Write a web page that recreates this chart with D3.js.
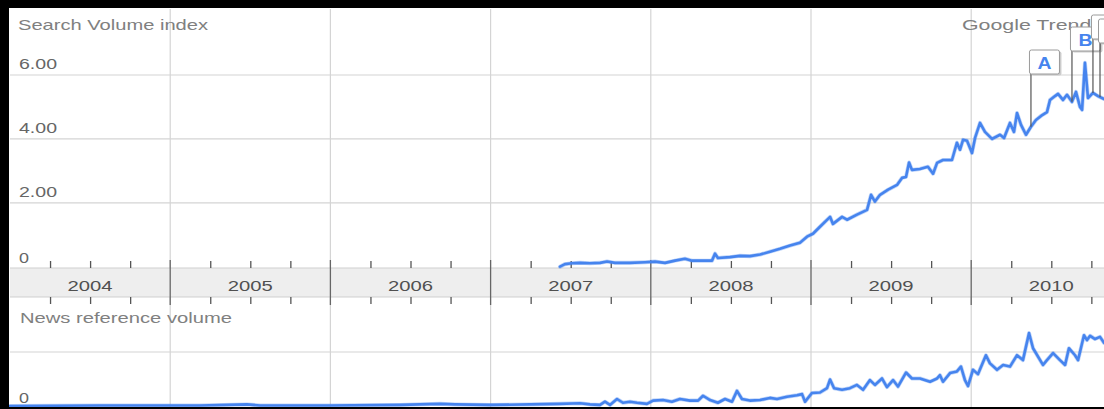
<!DOCTYPE html>
<html><head><meta charset="utf-8">
<script src="https://cdn.jsdelivr.net/npm/d3@7"></script>
<style>html,body{margin:0;padding:0;background:#fff;overflow:hidden}svg{display:block}</style>
</head><body><svg id="c" width="1104" height="409"></svg>
<script>
// ---------- data ----------
const years = [2004, 2005, 2006, 2007, 2008, 2009, 2010];
const yearLabels = ["2004", "2005", "2006", "2007", "2008", "2009", "2010"];

const searchTime = [2007.433,2007.464,2007.508,2007.558,2007.620,2007.683,2007.727,2007.777,2007.870,2007.964,
  2008.026,2008.089,2008.151,2008.213,2008.257,2008.338,2008.382,2008.401,2008.419,2008.494,2008.557,2008.619,
  2008.682,2008.744,2008.806,2008.869,2008.931,2008.975,2009.012,2009.056,2009.119,2009.137,2009.194,2009.225,
  2009.287,2009.350,2009.375,2009.399,2009.431,2009.481,2009.537,2009.568,2009.593,2009.612,2009.630,2009.680,
  2009.730,2009.762,2009.787,2009.824,2009.880,2009.911,2009.930,2009.949,2009.974,2010.005,2010.024,2010.055,
  2010.086,2010.130,2010.180,2010.205,2010.242,2010.267,2010.286,2010.311,2010.342,2010.373,2010.404,2010.436,
  2010.473,2010.492,2010.523,2010.542,2010.573,2010.598,2010.629,2010.654,2010.679,2010.692,2010.710,2010.729,
  2010.760,2010.792,2010.829];
const searchValue = [0.00,0.08,0.11,0.12,0.11,0.12,0.16,0.12,0.12,0.14,
  0.16,0.12,0.19,0.25,0.19,0.19,0.19,0.41,0.27,0.30,0.34,0.33,
  0.38,0.47,0.56,0.66,0.75,0.94,1.03,1.25,1.56,1.34,1.56,1.47,
  1.63,1.78,2.25,2.04,2.25,2.41,2.56,2.78,2.81,3.26,3.03,3.06,
  3.13,2.91,3.25,3.34,3.34,3.88,3.66,3.97,3.94,3.56,4.03,4.50,
  4.22,4.00,4.13,4.03,4.50,4.22,4.81,4.44,4.13,4.38,4.59,4.72,
  4.84,5.22,5.34,5.41,5.22,5.38,5.16,5.47,5.00,4.91,6.38,5.28,
  5.44,5.34,5.25];

const newsTime = [2004.000,2004.562,2005.186,2005.479,2005.561,2005.998,2006.434,2006.684,2006.778,2006.996,
  2007.246,2007.433,2007.558,2007.620,2007.683,2007.714,2007.745,2007.789,2007.826,2007.870,2007.914,2007.976,
  2008.014,2008.076,2008.132,2008.182,2008.245,2008.295,2008.326,2008.370,2008.419,2008.463,2008.507,2008.538,
  2008.569,2008.619,2008.682,2008.744,2008.788,2008.850,2008.913,2008.944,2008.963,2009.006,2009.056,2009.100,
  2009.119,2009.144,2009.194,2009.243,2009.287,2009.325,2009.368,2009.399,2009.443,2009.474,2009.512,2009.543,
  2009.593,2009.630,2009.680,2009.743,2009.787,2009.805,2009.824,2009.868,2009.911,2009.936,2009.961,2009.980,
  2010.011,2010.042,2010.092,2010.117,2010.161,2010.199,2010.242,2010.286,2010.323,2010.361,2010.386,2010.448,
  2010.473,2010.511,2010.554,2010.586,2010.610,2010.648,2010.667,2010.704,2010.723,2010.742,2010.773,2010.804,
  2010.829];
const newsValue = [0.00,0.01,0.01,0.03,0.01,0.01,0.02,0.04,0.03,0.02,
  0.03,0.04,0.05,0.03,0.02,0.08,0.02,0.13,0.06,0.08,0.06,0.04,
  0.10,0.11,0.08,0.13,0.10,0.10,0.19,0.11,0.06,0.13,0.08,0.28,
  0.13,0.10,0.11,0.15,0.13,0.17,0.20,0.22,0.08,0.24,0.25,0.33,
  0.49,0.33,0.30,0.33,0.39,0.30,0.48,0.39,0.51,0.35,0.48,0.36,
  0.62,0.51,0.51,0.45,0.51,0.57,0.45,0.61,0.64,0.73,0.48,0.37,
  0.67,0.59,0.94,0.79,0.67,0.76,0.73,0.94,0.85,1.35,1.07,0.76,
  0.85,0.98,0.85,0.76,1.07,0.94,0.85,1.31,1.22,1.30,1.24,1.28,
  1.17];

const searchTicks = [0, 2, 4, 6];
const searchTickLabels = ["0", "2.00", "4.00", "6.00"];
const newsTicks = [0, 1];
const newsTickLabels = ["0", ""];

const eventLetters = ["A", "B", "C", "D"];
const eventTime = [2010.373, 2010.629, 2010.760, 2010.804];

// ---------- layout ----------
const W = 1104, H = 409;
const left = 10;
const svg = d3.select("#c");
const FONT = "'Liberation Sans', Arial, sans-serif";
const BLUE = "#4684ee";

const x = d3.scaleLinear().domain([2004, 2011]).range([left, left + 7 * 160.2]);
const yTop = d3.scaleLinear().domain([0, 6]).range([266.7, 75]);
const yBot = d3.scaleLinear().domain([0, 1]).range([406, 352]);

const bandTop = 268, bandBot = 297;

function txt(s, px, py, size, len, color, anchor) {
  const t = svg.append("text").attr("x", px).attr("y", py)
    .attr("font-family", FONT).attr("font-size", size)
    .attr("fill", color).attr("text-anchor", anchor || "start").text(s);
  if (len) t.attr("textLength", len).attr("lengthAdjust", "spacingAndGlyphs");
  return t;
}

// vertical year gridlines
svg.append("g").selectAll("line").data(years.slice(1)).join("line")
  .attr("x1", d => x(d)).attr("x2", d => x(d))
  .attr("y1", 9).attr("y2", 407)
  .attr("stroke", "#d4d4d4").attr("stroke-width", 1.2);

// horizontal gridlines (top)
svg.append("g").selectAll("line").data(searchTicks.slice(1)).join("line")
  .attr("x1", left).attr("x2", W).attr("y1", d => yTop(d)).attr("y2", d => yTop(d))
  .attr("stroke", "#d4d4d4").attr("stroke-width", 1.2);
// horizontal gridlines (bottom)
svg.append("g").selectAll("line").data(newsTicks.slice(1)).join("line")
  .attr("x1", left).attr("x2", W).attr("y1", d => yBot(d)).attr("y2", d => yBot(d))
  .attr("stroke", "#d4d4d4").attr("stroke-width", 1.2);

// band
svg.append("rect").attr("x", left).attr("y", bandTop).attr("width", W - left).attr("height", bandBot - bandTop)
  .attr("fill", "#eeeeee");
svg.append("line").attr("x1", left).attr("x2", W).attr("y1", bandTop).attr("y2", bandTop).attr("stroke", "#cfcfcf");
svg.append("line").attr("x1", left).attr("x2", W).attr("y1", bandBot).attr("y2", bandBot).attr("stroke", "#cfcfcf");

// quarter ticks via axes
const quarters = d3.range(2004.25, 2011, 0.25).filter(q => Math.abs(q - Math.round(q)) > 0.01);
const axTop = d3.axisTop(x).tickValues(quarters).tickSize(7).tickFormat("");
const axBot = d3.axisBottom(x).tickValues(quarters).tickSize(7).tickFormat("");
const gT = svg.append("g").attr("transform", `translate(0,${bandTop})`).call(axTop);
const gB = svg.append("g").attr("transform", `translate(0,${bandBot})`).call(axBot);
[gT, gB].forEach(g => {
  g.select(".domain").remove();
  g.selectAll("line").attr("stroke", "#555").attr("stroke-width", 1.3);
});
// year separators
svg.append("g").selectAll("line").data(years.slice(1)).join("line")
  .attr("x1", d => x(d)).attr("x2", d => x(d))
  .attr("y1", 260).attr("y2", 305)
  .attr("stroke", "#666").attr("stroke-width", 1.3);

// year labels
years.forEach((yr, i) => {
  txt(yearLabels[i], x(yr + 0.5), 290.5, 15, 45, "#505050", "middle");
});

// axis labels
searchTicks.forEach((v, i) => {
  const lab = searchTickLabels[i];
  txt(lab, 19, yTop(v) - (v === 0 ? 4 : 6), 14, lab.length === 1 ? 10 : 38, "#666");
});
newsTicks.forEach((v, i) => {
  const lab = newsTickLabels[i];
  if (lab) txt(lab, 19, yBot(v) - 3, 14, 10, "#666");
});

txt("Search Volume index", 18, 30, 15, 190, "#808080");
txt("News reference volume", 20, 323, 15, 212, "#808080");
txt("Google Trends", 962, 30, 15, 140, "#808080");

// series lines
const searchData = searchTime.map((t, i) => ({t, v: searchValue[i]}));
const newsData = newsTime.map((t, i) => ({t, v: newsValue[i]}));
const lineTop = d3.line().x(d => x(d.t)).y(d => yTop(d.v));
const lineBot = d3.line().x(d => x(d.t)).y(d => yBot(d.v));
[[newsData, lineBot], [searchData, lineTop]].forEach(([data, gen]) => {
  svg.append("path").datum(data).attr("d", gen).attr("fill", "none")
    .attr("stroke", BLUE).attr("stroke-opacity", 0.35).attr("stroke-width", 4)
    .attr("stroke-linejoin", "round").attr("stroke-linecap", "round");
  svg.append("path").datum(data).attr("d", gen).attr("fill", "none")
    .attr("stroke", BLUE).attr("stroke-width", 2.6)
    .attr("stroke-linejoin", "round").attr("stroke-linecap", "round");
});

// event annotations
const bis = d3.bisector(d => d.t).left;
function valueAt(t) {
  const i = Math.max(1, Math.min(searchData.length - 1, bis(searchData, t)));
  const a = searchData[i - 1], b = searchData[i];
  return a.v + (b.v - a.v) * (t - a.t) / (b.t - a.t);
}
const boxTop = [50, 27, 15, 19];
const boxW = 30, boxH = 24;
eventLetters.forEach((L, i) => {
  const ex = x(eventTime[i]);
  const g = svg.append("g");
  g.append("line").attr("x1", ex).attr("x2", ex)
    .attr("y1", boxTop[i] + boxH).attr("y2", yTop(valueAt(eventTime[i])))
    .attr("stroke", "#555").attr("stroke-width", 1.2);
  g.append("rect").attr("x", ex - 1 + 1.5).attr("y", boxTop[i] + 1.5).attr("width", boxW).attr("height", boxH)
    .attr("rx", 2).attr("fill", "#cccccc");
  g.append("rect").attr("x", ex - 1.5).attr("y", boxTop[i]).attr("width", boxW).attr("height", boxH)
    .attr("rx", 2).attr("fill", "#fff").attr("stroke", "#9a9a9a").attr("stroke-width", 1);
  const cx = ex - 1.5 + boxW / 2;
  if (cx < W - 4) {
    g.append("text").attr("x", cx).attr("y", boxTop[i] + 18.5)
      .attr("text-anchor", "middle").attr("font-family", FONT).attr("font-size", 16)
      .attr("textLength", 14).attr("lengthAdjust", "spacingAndGlyphs")
      .attr("font-weight", "bold").attr("fill", BLUE).text(L);
  }
});

// black frame
svg.append("rect").attr("x", 0).attr("y", 0).attr("width", W).attr("height", 8).attr("fill", "#000");
svg.append("rect").attr("x", 0).attr("y", 0).attr("width", 9).attr("height", H).attr("fill", "#000");
svg.append("rect").attr("x", 0).attr("y", 407).attr("width", W).attr("height", 2).attr("fill", "#000");
</script>
</body></html>
